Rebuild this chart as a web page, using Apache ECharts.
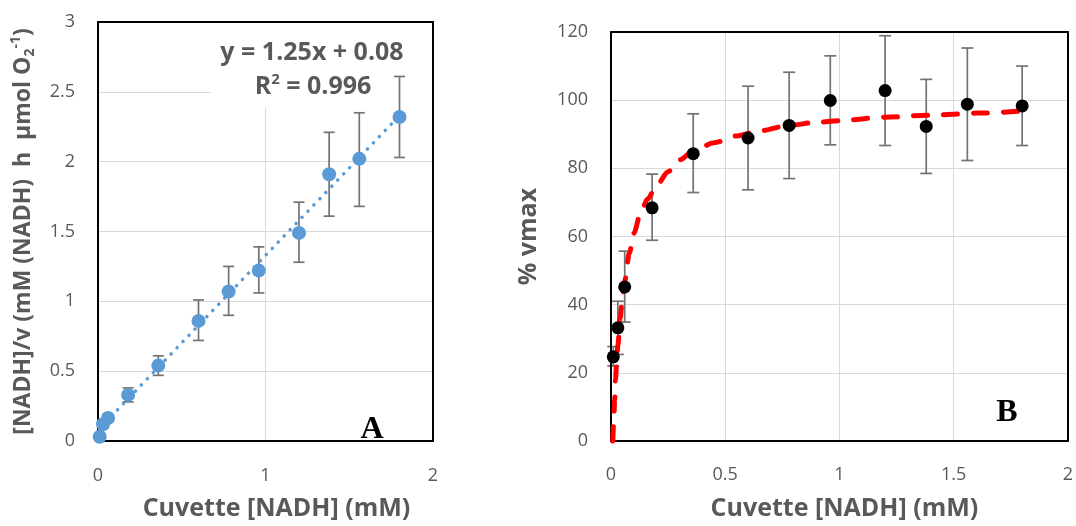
<!DOCTYPE html>
<html>
<head>
<meta charset="utf-8">
<script src="https://cdn.jsdelivr.net/npm/echarts@6/dist/echarts.min.js"></script>
<style>
html,body{margin:0;padding:0;background:#fff;}
#chart{width:1076px;height:526px;}
</style>
</head>
<body>
<div id="chart"></div>
<script>
// ---- Data ----
const nadhConc = [0.01, 0.03, 0.06, 0.18, 0.36, 0.6, 0.78, 0.96, 1.2, 1.38, 1.56, 1.8];

// Panel A: [NADH]/v vs [NADH]
const ratioA   = [0.03, 0.12, 0.165, 0.33, 0.54, 0.86, 1.07, 1.22, 1.49, 1.91, 2.02, 2.32];
const errLowA  = [0.02, 0.10, 0.14, 0.28, 0.47, 0.72, 0.90, 1.06, 1.28, 1.61, 1.68, 2.03];
const errHighA = [0.04, 0.14, 0.19, 0.38, 0.61, 1.01, 1.25, 1.39, 1.71, 2.21, 2.35, 2.61];
const trendX = [0.01, 1.8];
const trendY = [0.09, 2.33];
const equationText = 'y = 1.25x + 0.08';
const r2Text = '0.996';

// Panel B: % vmax vs [NADH]
const vmaxB    = [24.7, 33.2, 45.2, 68.4, 84.3, 88.9, 92.6, 99.9, 102.8, 92.3, 98.8, 98.3];
const errLowB  = [22.0, 25.4, 34.9, 58.9, 72.9, 73.7, 77.0, 86.9, 86.7, 78.5, 82.3, 86.7];
const errHighB = [27.7, 41.0, 55.7, 78.3, 96.0, 104.1, 108.2, 113.0, 118.9, 106.1, 115.3, 110.0];
const fitX = [0.008, 0.012, 0.016, 0.02, 0.025, 0.03, 0.04, 0.05, 0.06, 0.08, 0.1, 0.13, 0.16, 0.2, 0.25, 0.3, 0.36, 0.45, 0.55, 0.65, 0.78, 0.9, 1.0, 1.2, 1.4, 1.6, 1.8];
const fitY = [0, 6, 12, 18, 24, 28, 36, 42, 47, 55, 61, 67, 71, 75, 79, 82.5, 85, 87.5, 89.5, 91, 92.6, 93.5, 94, 95, 95.6, 96.2, 96.8];

// Tick labels
const yTicksA = [0, 0.5, 1, 1.5, 2, 2.5, 3];
const xTicksA = [0, 1, 2];
const yTicksB = [0, 20, 40, 60, 80, 100, 120];
const xTicksB = [0, 0.5, 1, 1.5, 2];

// ---- Styling ----
const FONT = 'Open Sans';
const TXT = '#595959';
const GRIDC = '#D9D9D9';

function pairs(xs, ys) { return xs.map((x, i) => [x, ys[i]]); }
function errData(xs, lo, hi) { return xs.map((x, i) => [x, lo[i], hi[i]]); }

function errorBars(xi, yi, data, capHalf) {
  return {
    type: 'custom', xAxisIndex: xi, yAxisIndex: yi, z: 2,
    renderItem: function (params, api) {
      const x = api.value(0), lo = api.value(1), hi = api.value(2);
      const t = api.coord([x, hi]), b = api.coord([x, lo]);
      const st = { stroke: '#737373', lineWidth: 1.7 };
      return { type: 'group', children: [
        { type: 'line', shape: { x1: t[0], y1: t[1], x2: b[0], y2: b[1] }, style: st },
        { type: 'line', shape: { x1: t[0] - capHalf, y1: t[1], x2: t[0] + capHalf, y2: t[1] }, style: st },
        { type: 'line', shape: { x1: b[0] - capHalf, y1: b[1], x2: b[0] + capHalf, y2: b[1] }, style: st }
      ]};
    },
    encode: { x: 0, y: [1, 2] },
    data: data,
    clip: false
  };
}

// Main axes: labels + light grid lines (lowest layer)
function valueAxis(min, max, interval, extra) {
  return Object.assign({
    type: 'value', min: min, max: max, interval: interval,
    axisLine: { show: false }, axisTick: { show: false },
    splitLine: { show: true, lineStyle: { color: GRIDC, width: 1 } },
    nameLocation: 'middle', z: 0
  }, extra);
}
// Frame axes: black plot-area border on all four sides (above grid lines, below marks)
const frameLine = { show: true, onZero: false, lineStyle: { color: '#000', width: 2 } };
function frameAxis(min, max, gridIndex, position) {
  return { type: 'value', min: min, max: max, gridIndex: gridIndex, position: position,
    axisLine: frameLine, axisTick: { show: false }, axisLabel: { show: false },
    splitLine: { show: false }, z: 2.5 };
}
function tickLabel(ticks, margin) {
  return { color: TXT, fontSize: 18, fontFamily: FONT, margin: margin,
    formatter: function (v) { return ticks.indexOf(v) >= 0 ? String(v) : ''; } };
}
const titleStyle = { color: TXT, fontSize: 25, fontWeight: 'bold', fontFamily: FONT };

const chart = echarts.init(document.getElementById('chart'), null, { renderer: 'canvas' });

const option = {
  animation: false,
  backgroundColor: '#fff',
  grid: [
    { left: 98, top: 22, width: 335, height: 424.5, show: false },
    { left: 611, top: 32, width: 462, height: 410, show: false }
  ],
  xAxis: [
    valueAxis(0, 2, 1, { gridIndex: 0, position: 'bottom', name: 'Cuvette [NADH] (mM)', nameGap: 55,
      axisLabel: tickLabel(xTicksA, 26),
      nameTextStyle: Object.assign({ padding: [0, 0, 0, 22] }, titleStyle) }),
    valueAxis(0, 2, 0.5, { gridIndex: 1, position: 'bottom', name: 'Cuvette [NADH] (mM)', nameGap: 55,
      axisLabel: tickLabel(xTicksB, 25),
      nameTextStyle: Object.assign({ padding: [0, 0, 0, 10] }, titleStyle) }),
    frameAxis(0, 2, 0, 'bottom'),
    frameAxis(0, 2, 0, 'top'),
    frameAxis(0, 2, 1, 'bottom'),
    frameAxis(0, 2, 1, 'top')
  ],
  yAxis: [
    valueAxis(0, 3, 0.5, { gridIndex: 0, position: 'left', nameGap: 61,
      name: '{n|[NADH]/v (mM (NADH)  h  µmol O}{sub|2}{sup|-1}{n|)}',
      axisLabel: tickLabel(yTicksA, 23),
      nameTextStyle: { color: TXT, fontSize: 23, fontWeight: 'bold', fontFamily: FONT,
        rich: {
          n: { color: TXT, fontSize: 23, fontWeight: 'bold', fontFamily: FONT, lineHeight: 28 },
          sub: { color: TXT, fontSize: 14, fontWeight: 'bold', fontFamily: FONT, lineHeight: 12, verticalAlign: 'bottom' },
          sup: { color: TXT, fontSize: 14, fontWeight: 'bold', fontFamily: FONT, lineHeight: 12, verticalAlign: 'top' }
        } } }),
    valueAxis(0, 120, 20, { gridIndex: 1, position: 'left', name: '% vmax', nameGap: 70,
      axisLabel: tickLabel(yTicksB, 23),
      nameTextStyle: titleStyle }),
    frameAxis(0, 3, 0, 'left'),
    frameAxis(0, 3, 0, 'right'),
    frameAxis(0, 120, 1, 'left'),
    frameAxis(0, 120, 1, 'right')
  ],
  graphic: [
    { type: 'rect', z: 1, shape: { x: 211, y: 23, width: 221, height: 85 }, style: { fill: '#fff' } },
    { type: 'text', z: 3, x: 312, y: 53, style: { text: equationText, fill: TXT, font: 'bold 25px "Open Sans"', align: 'center', verticalAlign: 'middle' } },
    { type: 'text', z: 3, x: 313, y: 87, style: { text: '{a|R}{s|2}{a| = ' + r2Text + '}', fill: TXT, align: 'center', verticalAlign: 'middle',
      rich: { a: { fill: TXT, font: 'bold 25px "Open Sans"', lineHeight: 30 }, s: { fill: TXT, font: 'bold 15px "Open Sans"', lineHeight: 17, verticalAlign: 'top' } } } },
    { type: 'text', z: 3, x: 372, y: 430, style: { text: 'A', fill: '#000', font: 'bold 32px "Liberation Serif"', align: 'center', verticalAlign: 'middle' } },
    { type: 'text', z: 3, x: 1007, y: 413, style: { text: 'B', fill: '#000', font: 'bold 32px "Liberation Serif"', align: 'center', verticalAlign: 'middle' } }
  ],
  series: [
    errorBars(0, 0, errData(nadhConc, errLowA, errHighA), 5.5),
    { type: 'scatter', xAxisIndex: 0, yAxisIndex: 0, z: 3, symbolSize: 14,
      itemStyle: { color: '#5B9BD5', opacity: 1 }, data: pairs(nadhConc, ratioA), clip: false },
    { type: 'line', xAxisIndex: 0, yAxisIndex: 0, z: 4, symbol: 'none', silent: true,
      lineStyle: { color: '#5B9BD5', width: 3.5, type: [0.1, 8.5], cap: 'round' },
      data: pairs(trendX, trendY) },
    errorBars(1, 1, errData(nadhConc, errLowB, errHighB), 6),
    { type: 'line', xAxisIndex: 1, yAxisIndex: 1, z: 3, symbol: 'none', silent: true, smooth: 0.3, smoothMonotone: 'x',
      lineStyle: { color: '#FF0000', width: 5, type: [14, 16], cap: 'round' },
      data: pairs(fitX, fitY), clip: false },
    { type: 'scatter', xAxisIndex: 1, yAxisIndex: 1, z: 4, symbolSize: 13,
      itemStyle: { color: '#000', opacity: 1 }, data: pairs(nadhConc, vmaxB), clip: false }
  ]
};
chart.setOption(option);
</script>
</body>
</html>
